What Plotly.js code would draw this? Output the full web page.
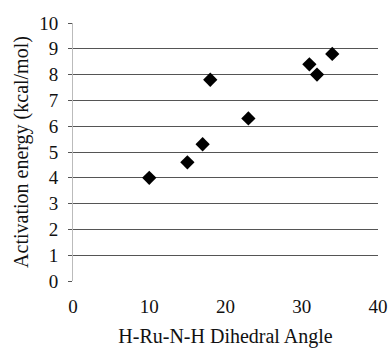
<!DOCTYPE html>
<html><head><meta charset="utf-8">
<script src="https://cdn.plot.ly/plotly-3.0.1.min.js"></script>
<style>html,body{margin:0;padding:0;background:#fff}#c{width:390px;height:348px}</style>
</head><body><div id="c"></div>
<script>
const dihedralAngle = [10, 15, 17, 18, 23, 31, 32, 34];
const activationEnergy = [4.0, 4.6, 5.3, 7.8, 6.3, 8.4, 8.0, 8.8];
const xTicks = [0, 10, 20, 30, 40];
const yTicks = [0, 1, 2, 3, 4, 5, 6, 7, 8, 9, 10];

const fam = '"Liberation Serif", "Times New Roman", serif';
const tickFont = {family: fam, size: 19, color: '#111'};
const titleFont = {family: fam, size: 20, color: '#111'};
Plotly.newPlot('c', [{
  x: dihedralAngle, y: activationEnergy, type: 'scatter', mode: 'markers',
  marker: {symbol: 'diamond', size: 11, color: '#000'}
}], {
  width: 390, height: 348,
  margin: {l: 73, r: 12, t: 23, b: 67},
  paper_bgcolor: '#fff', plot_bgcolor: '#fff',
  font: tickFont, showlegend: false,
  xaxis: {range: [0, 40], tickvals: xTicks, showgrid: false, zeroline: false,
    showline: false, ticks: '', tickfont: tickFont, ticklabelstandoff: 12,
    title: {text: 'H-Ru-N-H Dihedral Angle', font: titleFont, standoff: 15}},
  yaxis: {range: [0, 10], tickvals: yTicks, showgrid: true, gridcolor: '#555', gridwidth: 1,
    zeroline: false, showline: true, linecolor: '#bbb', linewidth: 1,
    ticks: 'outside', ticklen: 4, tickcolor: '#555', tickfont: tickFont, ticklabelstandoff: 6,
    title: {text: 'Activation energy (kcal/mol)', font: titleFont, standoff: 5}}
}, {staticPlot: true});
</script></body></html>
